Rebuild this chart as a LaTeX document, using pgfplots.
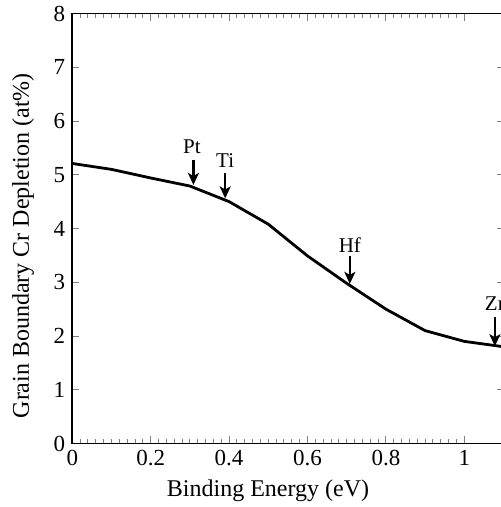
\documentclass[border=0pt]{standalone}
\usepackage{fontspec}
\setmainfont{Liberation Serif}
\usepackage{pgfplots}
\pgfplotsset{compat=1.18}
\usetikzlibrary{arrows.meta,calc}

\pgfplotstableread{
x    y
0.0  5.21
0.1  5.10
0.2  4.94
0.3  4.79
0.4  4.50
0.5  4.08
0.6  3.49
0.7  2.98
0.8  2.50
0.9  2.10
1.0  1.90
1.1  1.80
}\depletion

\tikzset{
  mk/.style={-{Stealth[length=6pt,width=5.5pt,inset=1.5pt]}, line width=1.1pt},
  el/.style={font=\fontsize{10.5}{12}\selectfont, anchor=center}
}

\begin{document}
\begin{tikzpicture}
\begin{axis}[
  scale only axis, width=215.6pt, height=215pt,
  xmin=0, xmax=1.1, ymin=0, ymax=8,
  xtick={0,0.2,0.4,0.6,0.8,1}, ytick={0,1,...,8},
  minor x tick num=9,
  major tick length=3.5pt, minor tick length=2pt,
  tick style={gray, line width=0.5pt},
  axis line style={line width=0.8pt},
  tick align=inside,
  ticklabel style={font=\fontsize{11.5}{13}\selectfont},
  /pgf/number format/assume math mode=true,
  xlabel={Binding Energy (eV)},
  ylabel={Grain Boundary Cr Depletion (at\%)},
  label style={font=\fontsize{12}{14}\selectfont},
  xlabel style={at={(axis description cs:0.454,-0.111)}, anchor=center},
  ylabel style={at={(axis description cs:-0.114,0.46)}, anchor=center},
  clip=false,
]
\addplot[black, line width=1.4pt, no markers] table {\depletion};

\draw[mk] (axis cs:0.309,5.28) -- (axis cs:0.309,4.81);
\node[el] at (axis cs:0.305,5.52) {Pt};
\draw[mk] (axis cs:0.390,5.03) -- (axis cs:0.390,4.56);
\node[el] at (axis cs:0.390,5.27) {Ti};
\draw[mk] (axis cs:0.708,3.48) -- (axis cs:0.708,2.97);
\node[el] at (axis cs:0.708,3.70) {Hf};
\draw[mk] (axis cs:1.078,2.35) -- (axis cs:1.078,1.81);
\node[el] at (axis cs:1.078,2.61) {Zr};

\coordinate (O) at (rel axis cs:0,0);
\end{axis}
\pgfresetboundingbox
\useasboundingbox ($(O)+(-36.15pt,-31.75pt)$) rectangle ($(O)+(213.85pt,221.75pt)$);
\end{tikzpicture}
\end{document}
